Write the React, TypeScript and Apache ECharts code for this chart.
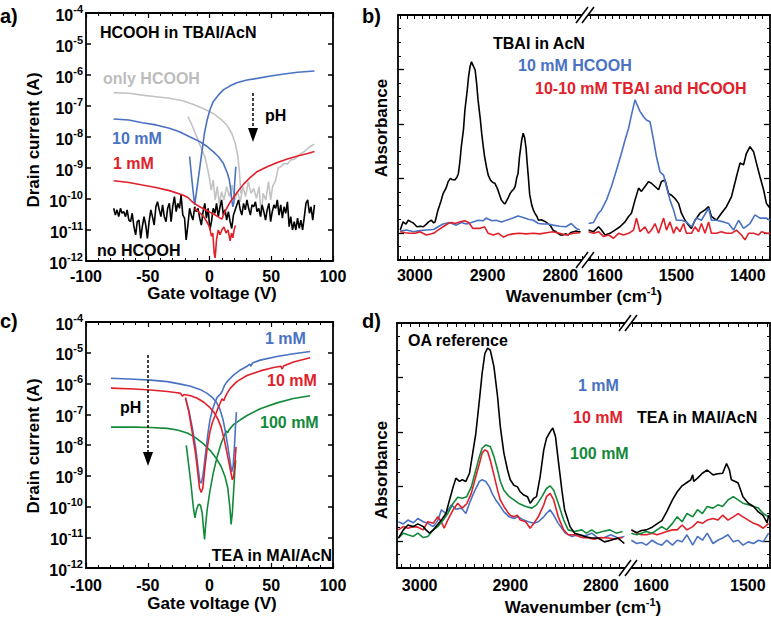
import React, { useEffect, useRef } from "react";
import * as echarts from "echarts";

const FONT = '"Liberation Sans", Arial, Helvetica, sans-serif';
const COL = { black: "#000000", blue: "#4a72c3", red: "#e0202a", green: "#13893a", gray: "#c3c3c3" };

// ---------- Panel a: HCOOH in TBAI/AcN  [gate voltage V, log10(drain current / A)] ----------
const aOnlyHcoohSweep1 = [[-77.6,-6.57],[-65.3,-6.59],[-54.4,-6.65],[-43.4,-6.70],[-32.5,-6.75],[-21.6,-6.83],[-13.4,-6.94],[-5.2,-7.08],[3.0,-7.24],[9.8,-7.45],[13.9,-7.61],[18.0,-7.88],[20.8,-8.20],[23.0,-8.63],[24.3,-9.17],[25.4,-9.82]];
const aOnlyHcoohSweep2 = [[-17.5,-7.34],[-14.8,-7.56],[-12.0,-7.83],[-9.3,-8.10],[-6.6,-8.37],[-3.8,-8.63],[-1.9,-8.96],[-0.3,-9.28],[1.4,-9.71],[3.0,-9.39],[4.6,-10.03],[6.3,-9.60],[7.9,-10.14],[9.8,-9.76],[11.7,-10.03],[13.9,-9.60],[16.1,-9.92],[18.3,-9.55],[20.5,-10.03],[22.7,-9.76],[24.9,-10.09],[27.0,-9.60],[29.2,-9.92],[31.4,-9.44],[33.6,-9.82],[35.8,-9.66],[38.0,-9.98],[40.2,-9.60],[41.8,-10.57],[43.4,-9.82],[45.6,-10.03],[47.8,-9.44],[49.5,-10.03],[51.1,-9.60],[53.6,-9.39],[55.5,-9.01],[57.7,-8.96],[60.4,-8.85],[63.1,-8.87],[65.8,-8.74],[68.6,-8.72],[71.3,-8.63],[74.0,-8.53],[76.8,-8.47],[79.5,-8.37],[82.2,-8.29],[85.0,-8.23]];
const aTenMmSweep1 = [[-77.6,-7.42],[-65.3,-7.45],[-54.4,-7.54],[-43.4,-7.61],[-32.5,-7.72],[-24.3,-7.83],[-16.1,-7.99],[-7.9,-8.15],[-2.5,-8.29],[3.0,-8.47],[7.1,-8.63],[11.2,-8.85],[14.5,-9.17],[16.1,-9.39],[17.2,-9.71],[18.0,-10.03],[18.9,-10.25],[19.8,-10.1],[20.2,-9.60],[21.3,-8.96]];
const aTenMmSweep2 = [[-16.1,-8.63],[-14.8,-9.17],[-13.4,-9.71],[-12.0,-10.19],[-10.7,-9.82],[-8.5,-9.17],[-6.3,-8.53],[-4.1,-7.88],[-1.9,-7.45],[0.3,-7.13],[3.0,-6.86],[7.1,-6.65],[11.2,-6.48],[16.7,-6.35],[22.1,-6.25],[30.3,-6.16],[38.5,-6.11],[49.5,-6.03],[60.4,-5.97],[71.3,-5.91],[85.0,-5.87]];
const aOneMmSweepA = [[-77.6,-9.41],[-65.3,-9.47],[-54.4,-9.55],[-43.4,-9.63],[-32.5,-9.73],[-21.6,-9.87],[-17.5,-9.95],[-15.0,-10.05],[-12.0,-10.15],[-8.0,-10.25],[-4.0,-10.33],[0.0,-10.42],[4.0,-10.50],[8.0,-10.60],[10.0,-10.65],[12.6,-10.40],[16.7,-10.10],[22.1,-9.80],[27.6,-9.52],[33.1,-9.30],[38.5,-9.12],[46.7,-8.96],[54.9,-8.82],[63.1,-8.71],[71.3,-8.61],[79.5,-8.53],[85.0,-8.47]];
const aOneMmSweepB = [[-12.0,-10.30],[-5.0,-10.55],[-2.0,-10.75],[0.0,-10.90],[1.6,-11.20],[2.7,-11.10],[3.8,-11.75],[4.6,-11.90],[5.7,-11.30],[7.1,-11.00],[8.5,-11.15],[10.0,-11.00],[11.7,-10.90],[13.4,-11.10],[15.0,-11.00],[16.7,-11.35],[17.8,-11.10],[18.9,-11.25],[19.9,-11.00],[21.0,-10.85]];
const aNoHcooh = [[-77.6,-10.30],[-76.2,-10.52],[-74.9,-10.35],[-73.5,-10.57],[-72.1,-10.30],[-70.8,-10.46],[-69.4,-10.41],[-68.0,-10.57],[-66.7,-10.35],[-65.3,-10.68],[-63.9,-10.73],[-62.6,-10.46],[-61.2,-10.89],[-59.8,-11.16],[-58.5,-10.73],[-57.1,-10.68],[-55.7,-11.27],[-54.4,-10.89],[-53.0,-10.57],[-51.6,-10.84],[-50.3,-11.27],[-48.9,-10.73],[-47.5,-10.35],[-46.2,-10.57],[-44.8,-10.84],[-43.4,-10.25],[-42.1,-10.09],[-40.7,-10.35],[-39.3,-10.57],[-38.0,-10.19],[-36.6,-10.57],[-35.2,-10.73],[-33.9,-10.30],[-32.5,-10.14],[-31.1,-10.73],[-29.8,-10.25],[-28.4,-9.92],[-27.0,-10.41],[-25.7,-10.14],[-24.3,-10.30],[-23.0,-9.87],[-21.6,-10.52],[-20.2,-10.62],[-18.9,-11.32],[-17.5,-10.84],[-16.1,-10.30],[-14.8,-10.52],[-13.4,-10.68],[-12.0,-10.25],[-10.7,-10.41],[-9.3,-10.30],[-7.9,-10.62],[-6.6,-10.84],[-5.2,-10.41],[-3.8,-10.14],[-2.5,-10.62],[-1.1,-10.30],[0.3,-11.00],[1.6,-10.73],[3.0,-10.30],[4.4,-10.46],[5.7,-10.14],[7.1,-10.57],[8.5,-10.25],[9.8,-10.03],[11.2,-10.52],[12.6,-10.35],[13.9,-10.68],[15.3,-10.41],[16.7,-10.73],[18.0,-10.95],[19.4,-10.52],[20.8,-10.35],[22.1,-10.19],[23.5,-10.03],[24.9,-10.35],[26.2,-10.52],[27.6,-10.14],[29.0,-10.35],[30.3,-10.03],[31.7,-10.30],[33.1,-10.52],[34.4,-10.19],[35.8,-10.25],[37.2,-10.09],[38.5,-10.41],[39.9,-10.30],[41.3,-10.57],[42.6,-10.19],[44.0,-10.41],[45.4,-10.68],[46.7,-10.35],[48.1,-10.14],[49.5,-10.73],[50.8,-10.41],[52.2,-10.19],[53.6,-10.30],[54.9,-10.03],[56.3,-10.52],[57.7,-10.19],[59.0,-10.62],[60.4,-10.25],[61.7,-10.46],[63.1,-10.09],[64.5,-10.89],[65.8,-10.57],[67.2,-11.00],[68.6,-10.73],[69.9,-11.00],[71.3,-10.62],[72.7,-10.95],[74.0,-10.68],[75.4,-11.00],[76.8,-10.57],[78.1,-10.14],[79.5,-10.03],[80.9,-10.46],[82.2,-10.25],[83.6,-10.68],[85.0,-10.19]];

// ---------- Panel b: FTIR [wavenumber cm-1, absorbance a.u.] ----------
const bLeftTbai = [[3020,0.55],[3016,0.70],[3012,0.66],[3009,0.73],[3005,0.70],[3002,0.68],[2997,0.61],[2992,0.62],[2988,0.61],[2984,0.66],[2981,0.70],[2977,0.73],[2974,0.68],[2972,0.70],[2968,0.92],[2964,1.08],[2961,1.22],[2957,1.32],[2954,1.44],[2951,1.50],[2949,1.48],[2945,1.47],[2942,1.52],[2940,1.59],[2938,1.80],[2936,2.08],[2933,2.40],[2931,2.76],[2928,3.10],[2926,3.37],[2924,3.55],[2922,3.64],[2920,3.58],[2917,3.49],[2915,3.25],[2913,2.94],[2910,2.60],[2908,2.33],[2906,2.10],[2904,1.90],[2901,1.68],[2899,1.56],[2896,1.47],[2894,1.44],[2892,1.42],[2890,1.41],[2887,1.33],[2885,1.26],[2883,1.18],[2881,1.10],[2878,1.05],[2876,1.03],[2874,1.08],[2872,1.13],[2869,1.22],[2867,1.26],[2864,1.30],[2862,1.35],[2860,1.50],[2858,1.59],[2856,1.90],[2853,2.20],[2851,2.33],[2849,2.25],[2847,2.05],[2845,1.70],[2844,1.55],[2842,1.20],[2839,1.00],[2837,0.92],[2835,0.86],[2832,0.80],[2830,0.73],[2826,0.74],[2823,0.72],[2820,0.70],[2817,0.67],[2813,0.62],[2810,0.55],[2806,0.52],[2803,0.49],[2800,0.46],[2796,0.46],[2793,0.48],[2789,0.46],[2786,0.50],[2782,0.52],[2778,0.53],[2775,0.52],[2772,0.52]];
const bLeftHcooh = [[3020,0.53],[3011,0.55],[3002,0.52],[2993,0.54],[2984,0.55],[2974,0.56],[2968,0.61],[2961,0.66],[2952,0.69],[2943,0.64],[2936,0.69],[2929,0.66],[2922,0.69],[2913,0.73],[2906,0.72],[2902,0.77],[2894,0.72],[2888,0.73],[2881,0.70],[2874,0.73],[2865,0.77],[2858,0.81],[2851,0.78],[2844,0.75],[2837,0.73],[2830,0.67],[2823,0.66],[2817,0.66],[2810,0.64],[2801,0.62],[2792,0.61],[2785,0.67],[2778,0.58],[2773,0.55]];
const bLeftMix = [[3020,0.52],[3013,0.50],[3006,0.49],[2999,0.49],[2993,0.52],[2984,0.46],[2974,0.49],[2968,0.55],[2961,0.61],[2954,0.67],[2949,0.69],[2945,0.67],[2938,0.70],[2931,0.72],[2926,0.69],[2920,0.58],[2911,0.58],[2904,0.61],[2899,0.49],[2892,0.46],[2885,0.49],[2878,0.42],[2872,0.46],[2865,0.48],[2856,0.49],[2847,0.48],[2837,0.49],[2828,0.48],[2819,0.50],[2810,0.52],[2801,0.49],[2792,0.46],[2782,0.49],[2773,0.50]];
const bRightTbai = [[1623,0.55],[1616,0.52],[1609,0.61],[1605,0.55],[1600,0.46],[1593,0.49],[1586,0.55],[1579,0.61],[1572,0.70],[1567,0.80],[1563,0.86],[1558,1.10],[1553,1.32],[1549,1.26],[1544,1.35],[1539,1.44],[1535,1.41],[1530,1.35],[1525,1.29],[1521,1.44],[1516,1.47],[1511,1.22],[1507,1.19],[1502,1.13],[1497,1.04],[1493,0.86],[1488,0.73],[1483,0.64],[1479,0.58],[1474,0.73],[1467,0.86],[1460,0.92],[1455,0.98],[1451,0.80],[1444,0.73],[1437,0.86],[1430,0.98],[1423,1.16],[1416,1.53],[1411,1.78],[1406,1.75],[1402,1.96],[1397,2.08],[1392,1.99],[1388,1.78],[1383,1.53],[1378,1.29],[1374,1.04],[1369,0.95]];
const bRightHcooh = [[1623,0.67],[1616,0.69],[1609,0.86],[1605,0.92],[1598,1.10],[1591,1.35],[1584,1.65],[1577,1.96],[1572,2.20],[1567,2.42],[1563,2.66],[1558,2.94],[1556,2.88],[1551,2.73],[1546,2.63],[1542,2.57],[1537,2.54],[1532,2.20],[1528,1.90],[1523,1.62],[1518,1.56],[1514,1.35],[1509,1.10],[1504,0.92],[1500,0.73],[1493,0.73],[1486,0.70],[1479,0.61],[1472,0.77],[1465,0.73],[1455,0.95],[1451,0.73],[1444,0.73],[1434,0.70],[1427,0.67],[1420,0.55],[1413,0.73],[1406,0.58],[1397,0.67],[1390,0.83],[1383,0.77],[1374,0.77],[1369,0.73]];
const bRightMix = [[1623,0.52],[1616,0.49],[1609,0.52],[1602,0.43],[1595,0.46],[1588,0.40],[1581,0.49],[1574,0.46],[1567,0.49],[1560,0.55],[1556,0.77],[1551,0.52],[1544,0.61],[1539,0.49],[1535,0.55],[1530,0.67],[1525,0.49],[1518,0.77],[1514,0.55],[1509,0.70],[1504,0.49],[1500,0.61],[1495,0.52],[1490,0.67],[1486,0.49],[1479,0.49],[1474,0.61],[1469,0.52],[1465,0.67],[1460,0.49],[1455,0.70],[1451,0.49],[1444,0.49],[1437,0.52],[1430,0.49],[1423,0.49],[1416,0.55],[1409,0.46],[1404,0.37],[1399,0.49],[1392,0.49],[1385,0.46],[1381,0.52],[1374,0.49],[1369,0.49]];

// ---------- Panel c: TEA in MAI/AcN [gate voltage V, log10(drain current / A)] ----------
const cOneMmSweep1 = [[-79.8,-5.83],[-61.0,-5.86],[-47.6,-5.89],[-34.1,-5.94],[-23.4,-6.02],[-15.3,-6.09],[-7.3,-6.20],[-1.9,-6.32],[2.2,-6.45],[5.6,-6.61],[8.3,-6.82],[10.8,-7.15],[13.2,-7.63],[15.3,-8.17],[16.9,-8.60],[18.0,-8.87],[19.1,-8.70],[20.2,-8.06],[21.0,-7.42],[21.8,-6.93]];
const cOneMmSweep2 = [[-19.4,-6.50],[-16.7,-6.88],[-14.0,-7.42],[-11.3,-8.06],[-9.4,-8.70],[-7.8,-9.19],[-6.5,-9.24],[-5.1,-8.92],[-3.2,-8.28],[-1.3,-7.63],[0.3,-7.20],[2.2,-6.88],[4.0,-6.66],[6.2,-6.45],[8.9,-6.34],[10.2,-6.26],[12.1,-6.07],[14.2,-5.94],[16.9,-5.83],[19.6,-5.72],[25.0,-5.56],[30.4,-5.44],[32.5,-5.37],[33.6,-5.44],[34.7,-5.33],[41.1,-5.24],[54.6,-5.12],[68.0,-5.03],[81.5,-4.96]];
const cTenMmSweep1 = [[-79.8,-6.15],[-61.0,-6.18],[-47.6,-6.21],[-34.1,-6.26],[-26.1,-6.30],[-23.4,-6.32],[-22.0,-6.41],[-20.7,-6.36],[-15.3,-6.40],[-9.9,-6.48],[-4.6,-6.61],[-0.5,-6.75],[3.5,-6.93],[6.7,-7.15],[9.4,-7.42],[12.1,-7.85],[14.8,-8.38],[16.9,-8.81],[18.5,-9.13],[19.6,-9.02],[20.7,-8.49],[21.5,-8.06]];
const cTenMmSweep2 = [[-19.4,-6.45],[-16.7,-6.93],[-14.0,-7.58],[-11.3,-8.28],[-9.4,-8.92],[-8.1,-9.40],[-6.7,-9.54],[-5.4,-9.40],[-3.8,-8.76],[-1.9,-8.11],[0.3,-7.58],[2.4,-7.25],[4.6,-7.04],[6.7,-6.82],[8.9,-6.61],[10.2,-6.50],[11.6,-6.56],[12.6,-6.45],[14.2,-6.32],[16.9,-6.15],[22.3,-5.93],[30.4,-5.74],[41.1,-5.59],[51.9,-5.48],[57.8,-5.44],[58.9,-5.53],[59.9,-5.43],[68.0,-5.30],[81.5,-5.16]];
const cHundredMmSweep1 = [[-79.8,-7.42],[-61.0,-7.42],[-47.6,-7.43],[-34.1,-7.46],[-26.1,-7.51],[-18.0,-7.61],[-11.3,-7.76],[-4.6,-7.97],[0.8,-8.19],[5.6,-8.44],[9.4,-8.70],[12.6,-9.03],[14.8,-9.40],[16.4,-9.99],[17.5,-10.58],[18.5,-10.21],[19.6,-9.46],[20.4,-8.92],[21.2,-8.49]];
const cHundredMmSweep2 = [[-18.8,-8.01],[-16.7,-8.70],[-14.8,-9.35],[-13.2,-9.99],[-11.8,-10.37],[-10.5,-10.10],[-8.9,-9.93],[-7.3,-9.96],[-5.9,-10.21],[-4.8,-10.75],[-4.0,-11.07],[-3.2,-10.64],[-1.9,-10.10],[0.3,-9.51],[3.0,-8.92],[6.2,-8.38],[9.4,-7.95],[12.1,-7.68],[13.7,-7.54],[14.8,-7.60],[15.9,-7.50],[19.6,-7.33],[25.0,-7.18],[30.4,-7.04],[41.1,-6.82],[54.6,-6.63],[68.0,-6.49],[81.5,-6.40]];

// ---------- Panel d: FTIR [wavenumber cm-1, absorbance a.u.] ----------
const dLeftOa = [[3023.5,0.55],[3018,0.70],[3013,0.79],[3007,0.76],[3002,0.81],[2996,0.76],[2993,0.70],[2989,0.64],[2985,0.70],[2982,0.76],[2976,0.88],[2971,1.00],[2967,1.25],[2963,1.49],[2960,1.65],[2956,1.59],[2953,1.62],[2949,1.59],[2945,1.74],[2942,2.05],[2938,2.47],[2934,3.09],[2931,3.58],[2928,3.94],[2925,4.04],[2922,4.00],[2918,3.70],[2914,3.15],[2911,2.60],[2907,2.11],[2903,1.80],[2900,1.62],[2896,1.52],[2892,1.49],[2889,1.40],[2885,1.34],[2881,1.31],[2878,1.19],[2874,1.28],[2871,1.31],[2867,1.68],[2863,2.17],[2860,2.38],[2856,2.50],[2853,2.57],[2850,2.41],[2847,1.98],[2843,1.43],[2840,1.07],[2834,0.76],[2829,0.64],[2823,0.61],[2818,0.58],[2810,0.55],[2803,0.55],[2796,0.48],[2789,0.51],[2781,0.55],[2774,0.45]];
const dLeftTenMm = [[3023.5,0.70],[3018,0.76],[3013,0.73],[3007,0.76],[3002,0.75],[2996,0.70],[2991,0.85],[2985,0.82],[2980,0.94],[2976,0.85],[2973,0.73],[2969,0.88],[2963,1.07],[2958,1.19],[2953,1.10],[2948,1.18],[2943,1.37],[2938,1.68],[2934,1.92],[2931,2.11],[2928,2.17],[2925,2.14],[2922,1.98],[2918,1.71],[2914,1.43],[2911,1.25],[2907,1.13],[2903,1.03],[2900,0.97],[2896,0.94],[2892,0.97],[2889,0.88],[2883,0.85],[2878,0.73],[2874,0.82],[2869,0.94],[2863,1.16],[2860,1.31],[2856,1.37],[2852,1.25],[2847,0.94],[2841,0.70],[2836,0.61],[2829,0.61],[2821,0.56],[2814,0.55],[2807,0.53],[2800,0.56],[2792,0.55],[2785,0.53],[2776,0.56]];
const dLeftHundredMm = [[3023.5,0.55],[3018,0.64],[3013,0.61],[3007,0.58],[3002,0.64],[2996,0.56],[2991,0.58],[2985,0.70],[2980,0.76],[2974,0.88],[2969,1.00],[2963,1.19],[2958,1.30],[2953,1.28],[2948,1.31],[2943,1.49],[2938,1.80],[2934,2.05],[2931,2.20],[2927,2.26],[2922,2.23],[2918,2.05],[2914,1.80],[2911,1.59],[2907,1.43],[2901,1.31],[2896,1.25],[2891,1.19],[2883,1.13],[2876,1.10],[2871,1.16],[2865,1.31],[2860,1.46],[2856,1.51],[2852,1.43],[2847,1.19],[2841,0.88],[2836,0.70],[2829,0.67],[2821,0.70],[2816,0.64],[2810,0.70],[2805,0.64],[2798,0.67],[2790,0.70],[2783,0.64],[2776,0.67]];
const dLeftOneMm = [[3023.5,0.85],[3018,0.81],[3013,0.88],[3007,0.83],[3002,0.91],[2996,0.85],[2991,0.82],[2985,0.76],[2980,0.87],[2976,1.07],[2971,1.00],[2965,1.16],[2960,1.08],[2954,1.10],[2949,1.00],[2945,1.19],[2942,1.31],[2938,1.46],[2934,1.59],[2931,1.62],[2927,1.59],[2923,1.49],[2920,1.37],[2916,1.25],[2912,1.16],[2907,1.03],[2901,0.94],[2896,0.91],[2891,0.94],[2885,0.88],[2880,0.85],[2874,0.82],[2869,0.85],[2863,0.94],[2860,1.00],[2856,1.07],[2852,0.97],[2847,0.82],[2839,0.64],[2832,0.58],[2825,0.61],[2818,0.59],[2810,0.64],[2803,0.55],[2796,0.56],[2789,0.61],[2781,0.55],[2774,0.58]];
const dRightOa = [[1620.5,0.70],[1615,0.65],[1610,0.69],[1605,0.70],[1599,0.75],[1594,0.81],[1589,0.87],[1584,1.03],[1578,1.25],[1573,1.40],[1568,1.51],[1563,1.57],[1559,1.62],[1557,1.71],[1556,1.59],[1552,1.65],[1547,1.74],[1542,1.80],[1536,1.71],[1531,1.73],[1526,1.74],[1522,1.92],[1519,1.80],[1517,1.62],[1513,1.59],[1510,1.56],[1505,1.31],[1499.5,1.19],[1494,1.13],[1489,1.03],[1484,0.96],[1480,0.83],[1478.4,0.97]];
const dRightWavenumbers = [1620.5,1615,1610,1605,1599,1594,1589,1584,1578,1573,1568,1563,1557,1552,1547,1542,1536,1531,1526,1520.5,1515,1510,1505,1499.5,1494,1489,1484,1478.4];
const dRightHundredMm = [0.64,0.61,0.64,0.67,0.64,0.70,0.76,0.70,0.82,0.94,0.85,1.00,0.94,1.07,1.00,1.13,1.10,1.16,1.13,1.25,1.31,1.25,1.19,1.16,1.13,1.10,1.00,0.94];
const dRightTenMm = [0.70,0.64,0.61,0.61,0.64,0.61,0.64,0.67,0.70,0.70,0.79,0.70,0.76,0.85,0.82,0.88,0.91,0.88,0.97,0.88,0.94,1.00,0.94,0.88,0.82,0.79,0.73,0.82];
const dRightOneMm = [0.51,0.45,0.47,0.42,0.51,0.45,0.42,0.51,0.42,0.51,0.48,0.61,0.42,0.58,0.51,0.64,0.45,0.51,0.55,0.61,0.48,0.51,0.42,0.48,0.45,0.51,0.48,0.64];

// ---------- tick labels ----------
const voltTickLabels = [-100, -50, 0, 50, 100];
const bLeftLabels = [2800, 2900, 3000];
const bRightLabels = [1400, 1500, 1600];
const dLeftLabels = [2800, 2900, 3000];
const dRightLabels = [1500, 1600];
const absMajorTicks = [0.5, 1.5, 2.5, 3.5];
const absMinorTicks = [0.25, 0.75, 1, 1.25, 1.75, 2, 2.25, 2.75, 3, 3.25, 3.75, 4, 4.25];

const steps = (a: number, b: number, s: number) => {
  const out: number[] = [];
  for (let v = a; v <= b + 1e-9; v += s) out.push(v);
  return out;
};
const toAmps = (pts: number[][]) => pts.map(([v, e]) => [v, Math.pow(10, e)]);
const zip = (xs: number[], ys: number[]) => xs.map((x, i) => [x, ys[i]]);
const plain = (v: number) => String(Math.round(v));

const lineW = { color: "#000", width: 1.2 };
const frameLine = { show: true, onZero: false, lineStyle: { color: "#000", width: 1.8 } };
const tickLabel = { color: "#000", fontFamily: FONT, fontWeight: "bold", fontSize: 16 };

function voltAxis(gridIndex: number, bottom: boolean, margin: number) {
  return {
    type: "value", gridIndex, position: bottom ? "bottom" : "top",
    min: -100, max: 100, interval: 50,
    axisLine: frameLine,
    axisTick: { show: true, inside: true, length: 5, lineStyle: lineW },
    minorTick: { show: true, splitNumber: 5, length: 3, lineStyle: { color: "#000", width: 1 } },
    axisLabel: bottom ? { ...tickLabel, margin, formatter: plain, customValues: voltTickLabels } : { show: false },
    splitLine: { show: false }, minorSplitLine: { show: false },
  };
}
function currentAxis(gridIndex: number, left: boolean) {
  return {
    type: "log", logBase: 10, gridIndex, position: left ? "left" : "right",
    min: 1e-12, max: 1e-4,
    axisLine: frameLine,
    axisTick: { show: true, inside: true, length: 5, lineStyle: { color: "#000", width: 1.5 } },
    axisLabel: left ? {
      margin: 3,
      formatter: (v: number) => `{b|10}{s|${Math.round(Math.log10(v))}}`,
      rich: {
        b: { fontSize: 16, fontWeight: "bold", fontFamily: FONT, color: "#000", lineHeight: 20, verticalAlign: "bottom" },
        s: { fontSize: 11, fontWeight: "bold", fontFamily: FONT, color: "#000", lineHeight: 12, verticalAlign: "top" },
      },
    } : { show: false },
    splitLine: { show: false },
  };
}
function waveAxis(gridIndex: number, bottom: boolean, min: number, max: number, labels: number[], margin: number) {
  const first = Math.ceil(min / 10) * 10;
  return {
    type: "value", gridIndex, position: bottom ? "bottom" : "top", inverse: true, min, max,
    axisLine: frameLine,
    axisTick: { show: true, inside: true, length: 4, customValues: steps(first, max, 10), lineStyle: { color: "#000", width: 1 } },
    axisLabel: bottom ? { ...tickLabel, margin, formatter: plain, customValues: labels } : { show: false },
    splitLine: { show: false },
  };
}
function absAxis(gridIndex: number, left: boolean, major: boolean) {
  return {
    type: "value", gridIndex, position: left ? "left" : "right", min: 0, max: 4.5,
    axisLine: major ? frameLine : { show: false, onZero: false },
    axisTick: { show: true, inside: true, length: major ? 6 : 3, customValues: major ? absMajorTicks : absMinorTicks, lineStyle: { color: "#000", width: major ? 1.3 : 1 } },
    axisLabel: { show: false },
    splitLine: { show: false },
  };
}
function line(name: string, data: number[][], color: string, xAxisIndex: number, yAxisIndex: number) {
  return {
    type: "line", name, data, xAxisIndex, yAxisIndex, showSymbol: false, symbol: "none",
    lineStyle: { color, width: 1.6 }, itemStyle: { color }, silent: true, clip: true, z: 3,
  };
}
function txt(text: string, x: number, y: number, color = "#000", size = 16, align = "left") {
  return {
    type: "text", x, y, z: 50,
    style: { text, fill: color, font: `bold ${size}px ${FONT}`, align, textAlign: align, verticalAlign: "middle", textVerticalAlign: "middle" },
  };
}
function vtxt(text: string, x: number, y: number) {
  return {
    type: "text", x, y, rotation: Math.PI / 2, z: 50,
    style: { text, fill: "#000", font: `bold 17px ${FONT}`, align: "center", textAlign: "center", verticalAlign: "middle", textVerticalAlign: "middle" },
  };
}
function waveTitle(x: number, y: number) {
  return {
    type: "text", x, y, z: 50,
    style: {
      text: "{n|Wavenumber (cm}{s|-1}{n|)}", align: "center", textAlign: "center", verticalAlign: "middle", textVerticalAlign: "middle",
      rich: {
        n: { fontSize: 17, fontWeight: "bold", fontFamily: FONT, fill: "#000", color: "#000", lineHeight: 19, verticalAlign: "bottom" },
        s: { fontSize: 11, fontWeight: "bold", fontFamily: FONT, fill: "#000", color: "#000", lineHeight: 11, verticalAlign: "top" },
      },
    },
  };
}
function breakMark(bx: number, y: number) {
  return [
    { type: "polygon", z: 60, shape: { points: [[bx - 9, y + 8], [bx + 3, y - 8], [bx + 9, y - 8], [bx - 3, y + 8]] }, style: { fill: "#fff" } },
    { type: "line", z: 61, shape: { x1: bx - 9, y1: y + 8, x2: bx + 3, y2: y - 8 }, style: { stroke: "#000", lineWidth: 1.5 } },
    { type: "line", z: 61, shape: { x1: bx - 3, y1: y + 8, x2: bx + 9, y2: y - 8 }, style: { stroke: "#000", lineWidth: 1.5 } },
  ];
}
function arrow(x: number, y1: number, y2: number) {
  return [
    { type: "line", z: 50, shape: { x1: x, y1, x2: x, y2: y2 - 12 }, style: { stroke: "#000", lineWidth: 1.5, lineDash: [3, 2] } },
    { type: "polygon", z: 50, shape: { points: [[x - 5, y2 - 14], [x + 5, y2 - 14], [x, y2]] }, style: { fill: "#000" } },
  ];
}

export default function App() {
  const ref = useRef<HTMLDivElement>(null);
  useEffect(() => {
    if (!ref.current) return;
    const chart = echarts.init(ref.current, undefined, { renderer: "svg" });
    const gridBase = { containLabel: false, outerBoundsMode: "none", show: false };
    const option: any = {
      animation: false,
      backgroundColor: "#fff",
      grid: [
        { ...gridBase, left: 86, top: 13, width: 247, height: 248 },
        { ...gridBase, left: 398, top: 15, width: 187, height: 245 },
        { ...gridBase, left: 585, top: 15, width: 185, height: 245 },
        { ...gridBase, left: 86, top: 322, width: 247, height: 246 },
        { ...gridBase, left: 397, top: 323, width: 231, height: 245 },
        { ...gridBase, left: 628, top: 323, width: 142, height: 245 },
      ],
      xAxis: [
        voltAxis(0, true, 7), voltAxis(0, false, 0),
        waveAxis(1, true, 2766, 3023, bLeftLabels, 7), waveAxis(1, false, 2766, 3023, [], 0),
        waveAxis(2, true, 1369, 1628, bRightLabels, 7), waveAxis(2, false, 1369, 1628, [], 0),
        voltAxis(3, true, 9), voltAxis(3, false, 0),
        waveAxis(4, true, 2770, 3025, dLeftLabels, 9), waveAxis(4, false, 2770, 3025, [], 0),
        waveAxis(5, true, 1477, 1624, dRightLabels, 9), waveAxis(5, false, 1477, 1624, [], 0),
      ],
      yAxis: [
        currentAxis(0, true), currentAxis(0, false),
        absAxis(1, true, true), absAxis(1, true, false),
        absAxis(2, false, true), absAxis(2, false, false),
        currentAxis(3, true), currentAxis(3, false),
        absAxis(4, true, true), absAxis(4, true, false),
        absAxis(5, false, true), absAxis(5, false, false),
      ],
      series: [
        line("only HCOOH", toAmps(aOnlyHcoohSweep1), COL.gray, 0, 0),
        line("only HCOOH ", toAmps(aOnlyHcoohSweep2), COL.gray, 0, 0),
        line("no HCOOH", toAmps(aNoHcooh), COL.black, 0, 0),
        line("10 mM", toAmps(aTenMmSweep1), COL.blue, 0, 0),
        line("10 mM ", toAmps(aTenMmSweep2), COL.blue, 0, 0),
        line("1 mM", toAmps(aOneMmSweepA), COL.red, 0, 0),
        line("1 mM ", toAmps(aOneMmSweepB), COL.red, 0, 0),

        line("TBAI in AcN", bLeftTbai, COL.black, 2, 2),
        line("10 mM HCOOH", bLeftHcooh, COL.blue, 2, 2),
        line("10-10 mM TBAI and HCOOH", bLeftMix, COL.red, 2, 2),
        line("TBAI in AcN ", bRightTbai, COL.black, 4, 4),
        line("10 mM HCOOH ", bRightHcooh, COL.blue, 4, 4),
        line("10-10 mM TBAI and HCOOH ", bRightMix, COL.red, 4, 4),

        line("c 100 mM", toAmps(cHundredMmSweep1), COL.green, 6, 6),
        line("c 100 mM ", toAmps(cHundredMmSweep2), COL.green, 6, 6),
        line("c 1 mM", toAmps(cOneMmSweep1), COL.blue, 6, 6),
        line("c 1 mM ", toAmps(cOneMmSweep2), COL.blue, 6, 6),
        line("c 10 mM", toAmps(cTenMmSweep1), COL.red, 6, 6),
        line("c 10 mM ", toAmps(cTenMmSweep2), COL.red, 6, 6),

        line("d 1 mM", dLeftOneMm, COL.blue, 8, 8),
        line("d 10 mM", dLeftTenMm, COL.red, 8, 8),
        line("d 100 mM", dLeftHundredMm, COL.green, 8, 8),
        line("OA reference", dLeftOa, COL.black, 8, 8),
        line("d 1 mM ", zip(dRightWavenumbers, dRightOneMm), COL.blue, 10, 10),
        line("d 10 mM ", zip(dRightWavenumbers, dRightTenMm), COL.red, 10, 10),
        line("d 100 mM ", zip(dRightWavenumbers, dRightHundredMm), COL.green, 10, 10),
        line("OA reference ", dRightOa, COL.black, 10, 10),
      ],
      graphic: {
        elements: [
          txt("a)", 0, 16, "#000", 20), txt("b)", 362, 16, "#000", 20),
          txt("c)", 0, 321, "#000", 20), txt("d)", 362, 321, "#000", 20),
          vtxt("Drain current (A)", 33, 140), vtxt("Drain current (A)", 33, 446),
          vtxt("Absorbance", 381, 128), vtxt("Absorbance", 381, 470),
          txt("Gate voltage (V)", 212, 293, "#000", 17, "center"),
          txt("Gate voltage (V)", 212, 603, "#000", 17, "center"),
          waveTitle(584, 295), waveTitle(583, 606),

          txt("HCOOH in TBAI/AcN", 100, 32),
          txt("only HCOOH", 103, 78, "#bdbdbd"),
          txt("10 mM", 112, 138, COL.blue),
          txt("1 mM", 113, 163, COL.red),
          txt("pH", 265, 115),
          txt("no HCOOH", 97, 250),
          ...arrow(253, 93, 142),

          txt("TBAI in AcN", 493, 43),
          txt("10 mM HCOOH", 518, 65, COL.blue),
          txt("10-10 mM TBAI and HCOOH", 535, 88, COL.red),

          txt("1 mM", 265, 338, COL.blue),
          txt("10 mM", 267, 380, COL.red),
          txt("100 mM", 260, 422, COL.green),
          txt("pH", 120, 407),
          txt("TEA in MAI/AcN", 332, 555, "#000", 16, "right"),
          ...arrow(148, 355, 466),

          txt("OA reference", 408, 340),
          txt("1 mM", 578, 385, COL.blue),
          txt("10 mM", 573, 417, COL.red),
          txt("TEA in MAI/AcN", 637, 417),
          txt("100 mM", 570, 453, COL.green),

          ...breakMark(585, 15), ...breakMark(585, 260),
          ...breakMark(628, 323), ...breakMark(628, 568),
        ],
      },
    };
    chart.setOption(option);
    return () => chart.dispose();
  }, []);
  return <div ref={ref} style={{ position: "absolute", left: 0, top: 0, width: 771, height: 618, background: "#fff" }} />;
}
